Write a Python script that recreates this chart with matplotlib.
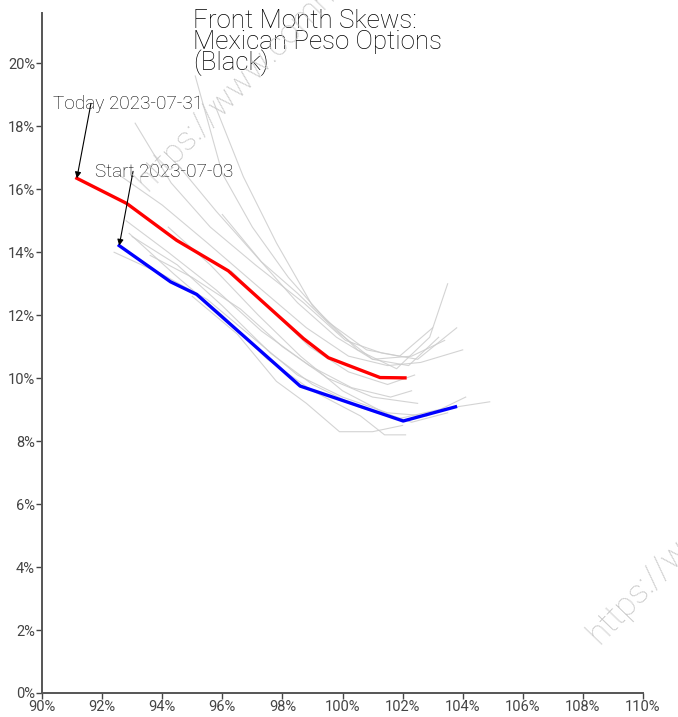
import matplotlib
matplotlib.use("Agg")
import matplotlib.pyplot as plt
from matplotlib.ticker import FuncFormatter, MultipleLocator

plt.rcParams['font.family'] = ['Roboto', 'DejaVu Sans']

# Today (2023-07-31) skew
today_x = [91.16, 92.82, 94.48, 96.20, 98.70, 99.53, 101.25, 102.08]
today_y = [16.35, 15.55, 14.38, 13.41, 11.26, 10.65, 10.02, 10.01]
# Start (2023-07-03) skew
start_x = [92.57, 94.28, 95.15, 98.59, 102.02, 103.76]
start_y = [14.21, 13.06, 12.66, 9.75, 8.64, 9.09]

# Intermediate days (grey)
hist_x = [
    [95.1, 96.0, 97.0, 98.2, 99.5, 100.8, 101.9, 103.0],
    [95.7, 96.7, 97.8, 99.0, 100.5, 101.8, 102.9, 103.5],
    [93.1, 94.3, 95.6, 97.1, 98.7, 100.1, 101.3, 102.5, 103.8],
    [92.5, 94.0, 95.5, 97.2, 98.8, 100.2, 101.5, 102.6, 104.0],
    [92.4, 94.0, 95.5, 97.0, 98.5, 100.0, 101.5, 102.8, 104.1],
    [93.0, 94.5, 96.0, 97.6, 99.0, 100.5, 101.8, 103.2, 104.9],
    [95.0, 96.5, 97.8, 98.8, 99.9, 101.0, 102.0],
    [92.8, 94.2, 95.8, 97.3, 98.9, 100.3, 101.6, 102.3],
    [93.6, 95.0, 96.6, 98.0, 99.5, 101.0, 102.5],
    [94.2, 95.6, 97.2, 98.6, 100.0, 101.4, 102.3, 103.5],
    [92.9, 94.4, 96.0, 97.5, 99.0, 100.6, 101.4, 102.1],
    [96.3, 97.6, 98.9, 100.2, 101.5, 102.4],
    [94.5, 95.8, 97.2, 98.5, 99.8, 101.0, 102.2, 103.2],
    [96.0, 97.3, 98.5, 99.8, 101.0, 102.3, 103.4],
]
hist_y = [
    [19.6, 16.5, 14.8, 13.2, 11.8, 10.9, 10.7, 11.6],
    [18.8, 16.4, 14.3, 12.3, 10.9, 10.3, 11.3, 13.0],
    [18.1, 16.2, 14.8, 13.6, 12.4, 11.2, 10.8, 10.6, 11.6],
    [16.5, 15.5, 14.3, 12.9, 11.6, 10.7, 10.4, 10.5, 10.9],
    [14.0, 13.3, 12.5, 11.3, 10.1, 9.4, 8.9, 8.8, 9.4],
    [14.5, 13.6, 12.3, 10.8, 9.8, 9.1, 8.7, 9.0, 9.25],
    [12.6, 11.4, 9.9, 9.2, 8.3, 8.3, 8.5],
    [15.0, 14.0, 12.8, 11.5, 10.4, 9.7, 9.4, 9.6],
    [13.9, 13.2, 12.2, 11.0, 10.0, 9.4, 9.2],
    [14.8, 13.6, 12.0, 10.7, 9.6, 8.9, 8.6, 8.9],
    [14.6, 13.3, 12.0, 10.6, 9.6, 8.8, 8.2, 8.2],
    [13.4, 12.2, 11.0, 10.2, 9.8, 10.1],
    [16.8, 15.3, 13.8, 12.4, 11.3, 10.6, 10.4, 11.3],
    [15.2, 13.7, 12.7, 11.5, 10.6, 10.7, 11.2],
]

title = "Front Month Skews:\nMexican Peso Options\n(Black)"
today_label = "Today 2023-07-31"
start_label = "Start 2023-07-03"
watermark = "https://www.commodityseasonality.com"

fig = plt.figure(figsize=(6.78, 7.17), dpi=100)
ax = fig.add_axes([42/678, 24/717, 601/678, 680/717])

# watermarks (run off the figure edge, as in the original)
fig.text(152/678, 1 - 197/717, watermark, rotation=46,
         fontsize=24, color='#c8c8c8', fontweight='light',
         ha='left', va='bottom', rotation_mode='anchor', zorder=0)
fig.text(604/678, 1 - 650/717, watermark, rotation=46,
         fontsize=24, color='#c8c8c8', fontweight='light',
         ha='left', va='bottom', rotation_mode='anchor', zorder=0)

for xs, ys in zip(hist_x, hist_y):
    ax.plot(xs, ys, color='#cccccc', lw=0.8, alpha=0.85, zorder=1)

ax.plot(today_x, today_y, color='#ff0000', lw=2.4, zorder=3)
ax.plot(start_x, start_y, color='#0000ff', lw=2.4, zorder=3)

ax.annotate('', xy=(today_x[0], today_y[0]), xytext=(91.63, 18.73),
            arrowprops=dict(arrowstyle='-|>', color='black', lw=0.8,
                            mutation_scale=9, shrinkA=0, shrinkB=0), zorder=4)
ax.annotate('', xy=(start_x[0], start_y[0]), xytext=(93.03, 16.57),
            arrowprops=dict(arrowstyle='-|>', color='black', lw=0.8,
                            mutation_scale=9, shrinkA=0, shrinkB=0), zorder=4)
ax.text(90.37, 18.72, today_label, fontsize=13.7, fontweight='light',
        color='#000000', ha='left', va='center', zorder=5)
ax.text(91.76, 16.54, start_label, fontsize=13.7, fontweight='light',
        color='#000000', ha='left', va='center', zorder=5)

ax.text(193/678, 1 - 9/717, title, transform=fig.transFigure, fontsize=18.7,
        fontweight='light', color='#000000', ha='left', va='top',
        linespacing=0.82, zorder=5)

ax.set_xlim(90, 110)
ax.set_ylim(0, 21.6)
ax.xaxis.set_major_locator(MultipleLocator(2))
ax.yaxis.set_major_locator(MultipleLocator(2))
ax.xaxis.set_major_formatter(FuncFormatter(lambda v, p: f"{v:.0f}%"))
ax.yaxis.set_major_formatter(FuncFormatter(lambda v, p: f"{v:.0f}%"))
for s in ['top', 'right']:
    ax.spines[s].set_visible(False)
for s in ['left', 'bottom']:
    ax.spines[s].set_color('#555555')
    ax.spines[s].set_linewidth(1.4)
ax.tick_params(axis='both', direction='out', length=4, width=1, color='#444444',
               labelsize=10.5, labelcolor='#444444', pad=1)
for lab in ax.get_xticklabels() + ax.get_yticklabels():
    lab.set_fontweight('normal')
ax.patch.set_alpha(0)

fig.savefig('out.png', dpi=100)
